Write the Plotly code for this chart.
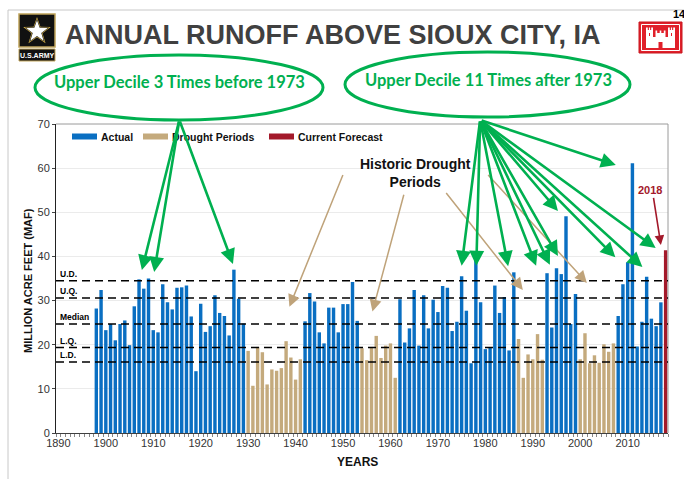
import math
import plotly.graph_objects as go

# ---------------- data ----------------
years = list(range(1898, 2019))
runoff = [
    # 1898-1929
    28.2, 32.4, 23.3, 24.7, 21.0, 24.7, 25.5, 19.9, 28.7, 34.8,
    32.7, 35.0, 23.3, 22.8, 33.7, 29.6, 28.0, 32.9, 33.0, 33.4,
    26.4, 14.0, 29.3, 22.9, 24.2, 31.2, 27.2, 26.5, 22.1, 37.0,
    30.4, 24.8,
    # 1930-1941
    18.6, 10.7, 19.5, 18.3, 11.0, 14.4, 14.1, 14.7, 20.8, 17.1, 12.1, 16.7,
    # 1942-1953
    25.3, 31.7, 29.8, 22.8, 20.3, 28.4, 28.4, 22.8, 29.2, 29.2, 34.2, 25.4,
    # 1954-1961
    19.2, 16.5, 19.5, 22.0, 17.0, 19.8, 20.3, 12.5,
    # 1962-1986
    30.3, 20.5, 23.7, 32.4, 19.8, 31.2, 23.7, 30.2, 27.4, 33.3,
    32.9, 23.1, 25.2, 35.5, 27.7, 15.8, 40.7, 29.6, 19.0, 19.4,
    33.4, 27.2, 30.8, 18.7, 36.4,
    # 1987-1992
    21.3, 12.5, 17.8, 16.7, 22.4, 16.6,
    # 1993-1999
    36.2, 23.9, 37.3, 36.0, 49.1, 24.7, 31.5,
    # 2000-2007
    16.7, 22.6, 15.8, 17.6, 15.9, 20.1, 18.4, 20.3,
    # 2008-2017
    26.5, 33.7, 38.7, 61.1, 19.6, 25.2, 35.4, 25.9, 24.2, 29.6,
    # 2018 forecast
    41.4,
]
drought_periods = [(1930, 1941), (1954, 1961), (1987, 1992), (2000, 2007)]
forecast_year = 2018

stat_labels = ["U.D.", "U.Q.", "Median", "L.Q.", "L.D."]
stat_values = [34.5, 30.6, 24.7, 19.35, 16.1]

x_tick_years = list(range(1890, 2011, 10))

# arrows: tips (year, value) and tails
green_left = [(1907.6, 36.9), (1910.2, 36.5), (1926.8, 38.3)]
green_left_tail = (1915.5, 70.9)
green_right = [(1975.0, 37.9), (1978.1, 37.9), (1984.8, 37.8), (1990.7, 37.9),
               (1993.6, 38.1), (1995.3, 40.1), (1995.3, 50.3), (2007.4, 39.8),
               (2007.5, 60.7), (2013.1, 37.6), (2015.9, 41.9)]
green_right_tail = (1978.9, 70.9)
tan_arrows = [(1938.7, 28.6, 1950.1, 58.8), (1956.2, 27.5, 1962.9, 54.3),
              (1987.9, 32.4, 1971.5, 54.7), (2001.4, 34.0, 1980.3, 58.8)]

# ---------------- split series ----------------
def in_drought(y):
    return any(a <= y <= b for a, b in drought_periods)

act_x, act_y, dr_x, dr_y, fc_x, fc_y = [], [], [], [], [], []
for yr, v in zip(years, runoff):
    if yr == forecast_year:
        fc_x.append(yr); fc_y.append(v)
    elif in_drought(yr):
        dr_x.append(yr); dr_y.append(v)
    else:
        act_x.append(yr); act_y.append(v)

BLUE, TAN, RED, GREEN = "#0A6FC2", "#C4AA7D", "#A3192A", "#00B050"

W, H = 684, 479
ML, MR, MT, MB = 56, 16, 124, 46
PW = W - ML - MR
PH = H - MT - MB


def px(X):
    return (X - ML) / PW


def py(Y):
    return (H - MB - Y) / PH


fig = go.Figure()
fig.add_trace(go.Bar(x=act_x, y=act_y, name="Actual", marker=dict(color=BLUE, line=dict(width=0)), width=0.72))
fig.add_trace(go.Bar(x=dr_x, y=dr_y, name="Drought Periods", marker=dict(color=TAN, line=dict(width=0)), width=0.72))
fig.add_trace(go.Bar(x=fc_x, y=fc_y, name="Current Forecast", marker=dict(color=RED, line=dict(width=0)), width=0.72))

shapes = []
annotations = []


def text(X, Y, s, size, color="#111", xa="center", ya="middle", family=None, **kw):
    f = dict(size=size, color=color)
    if family:
        f["family"] = family
    d = dict(xref="paper", yref="paper", x=px(X), y=py(Y), xanchor=xa, yanchor=ya, text=s,
             showarrow=False, font=f)
    d.update(kw)
    annotations.append(d)


# frame top/right
shapes.append(dict(type="line", xref="paper", yref="paper", x0=0, x1=1, y0=1, y1=1,
                   line=dict(color="#9A9A9A", width=1)))
shapes.append(dict(type="line", xref="paper", yref="paper", x0=1, x1=1, y0=0, y1=1,
                   line=dict(color="#9A9A9A", width=1)))

# page border
shapes.append(dict(type="line", xref="paper", yref="paper", x0=px(8), x1=px(684), y0=py(10), y1=py(10),
                   line=dict(color="#C8C8C8", width=1)))
shapes.append(dict(type="line", xref="paper", yref="paper", x0=px(8), x1=px(8), y0=py(10), y1=py(479),
                   line=dict(color="#C8C8C8", width=1)))

# statistic lines
for lab, v in zip(stat_labels, stat_values):
    shapes.append(dict(type="line", xref="paper", yref="y", x0=0, x1=1, y0=v, y1=v,
                       line=dict(color="black", width=1.5, dash="8px,5px"), layer="above"))
    annotations.append(dict(xref="paper", yref="y", x=px(58), y=v, xanchor="left", yanchor="bottom",
                            text="<b>%s</b>" % lab, showarrow=False, yshift=0,
                            font=dict(size=8.5, color="black")))

# custom legend
leg = [("Actual", BLUE, 72), ("Drought Periods", TAN, 143), ("Current Forecast", RED, 269)]
for name, col, x0 in leg:
    shapes.append(dict(type="rect", xref="paper", yref="paper", x0=px(x0), x1=px(x0 + 25),
                       y0=py(139.5), y1=py(133.5), fillcolor=col, line=dict(width=0)))
    text(x0 + 27, 136.5, "<b>%s</b>" % name, 10.5, xa="left")

# ellipses
shapes.append(dict(type="circle", xref="paper", yref="paper", x0=px(35), x1=px(323), y0=py(120), y1=py(55),
                   line=dict(color=GREEN, width=3)))
shapes.append(dict(type="circle", xref="paper", yref="paper", x0=px(345), x1=px(630), y0=py(117), y1=py(52),
                   line=dict(color=GREEN, width=3)))
text(179, 82, "<b>Upper Decile 3 Times before 1973</b>", 16.5, GREEN, family="Lato")
text(488, 80, "<b>Upper Decile 11 Times after 1973</b>", 16.5, GREEN, family="Lato")

# title
text(63, 35, "<b>ANNUAL RUNOFF ABOVE SIOUX CITY, IA</b>", 27, "#404040", xa="left")
text(671, 14, "<b>14</b>", 11, "black", xa="left")


def poly(points):
    return "M" + " L".join("%.5f,%.5f" % (px(a), py(b)) for a, b in points) + " Z"


def star(cx, cy, ro, ri):
    pts = []
    for k in range(10):
        ang = -math.pi / 2 + k * math.pi / 5
        r = ro if k % 2 == 0 else ri
        pts.append((cx + r * math.cos(ang), cy + r * math.sin(ang)))
    return poly(pts)


def rect(x0, y0, x1, y1, fill, line=None, lw=0):
    shapes.append(dict(type="rect", xref="paper", yref="paper", x0=px(x0), x1=px(x1), y0=py(y1), y1=py(y0),
                       fillcolor=fill, line=dict(width=lw, color=line or fill)))


# army logo
rect(19, 14, 55, 47, "#111111", "#BFA35A", 1.5)
for r_o, r_i, col in [(14.5, 5.8, "#D9B44A"), (12.8, 5.1, "#111111"), (11.3, 4.5, "white")]:
    shapes.append(dict(type="path", xref="paper", yref="paper", path=star(37, 31.5, r_o, r_i),
                       fillcolor=col, line=dict(width=0)))
rect(19, 49, 55, 61, "#111111", "#BFA35A", 1)
text(37, 55.2, "<b>U.S.ARMY</b>", 7, "white")

# engineers castle logo
rect(639, 22, 682, 53, "#E0202A", "#C8161F", 1)
rect(641.5, 24.5, 679.5, 50.5, "rgba(0,0,0,0)", "white", 1)
CW = "white"
rect(646, 37, 675, 48, CW)
rect(646, 30, 653, 48, CW)
rect(668, 30, 675, 48, CW)
rect(655.5, 33, 665.5, 37, CW)
for a, b in [(646, 647.8), (648.9, 650.1), (651.2, 653), (668, 669.8), (670.9, 672.1), (673.2, 675)]:
    rect(a, 27.5, b, 30, CW)
for a, b in [(655.5, 657.2), (659.7, 661.3), (663.8, 665.5)]:
    rect(a, 30.5, b, 33, CW)
rect(658.5, 42, 662.5, 48, "#E0202A")
rect(649, 33, 650, 36, "#E0202A")
rect(671, 33, 672, 36, "#E0202A")

# drought text + arrows
text(415, 173, "<b>Historic Drought<br>Periods</b>", 14, "#111", align="center")
for tx, ty, ax_, ay_ in tan_arrows:
    annotations.append(dict(xref="x", yref="y", x=tx, y=ty, axref="x", ayref="y", ax=ax_, ay=ay_, text="",
                            showarrow=True, arrowhead=2, arrowsize=1.6, arrowwidth=1.5, arrowcolor="#BFA37A"))

# green arrows
for tips, tail in [(green_left, green_left_tail), (green_right, green_right_tail)]:
    for tx, ty in tips:
        annotations.append(dict(xref="x", yref="y", x=tx, y=ty, axref="x", ayref="y",
                                ax=tail[0], ay=tail[1], text="", showarrow=True,
                                arrowhead=2, arrowsize=1.15, arrowwidth=2.6, arrowcolor=GREEN))

# 2018 label
annotations.append(dict(xref="x", yref="y", x=2014.7, y=55.1, xanchor="center", yanchor="middle",
                        text="<b>2018</b>", showarrow=False, font=dict(size=11, color=RED)))
annotations.append(dict(xref="x", yref="y", x=2017.0, y=42.6, axref="x", ayref="y", ax=2015.4, ay=53.6,
                        text="", showarrow=True, arrowhead=2, arrowsize=1.2, arrowwidth=1.6, arrowcolor=RED))

# axis titles
text(28, 281, "<b>MILLION ACRE FEET (MAF)</b>", 11, "#111", textangle=-90)
text(357, 462, "<b>YEARS</b>", 12, "#111")

fig.update_layout(
    width=W, height=H,
    margin=dict(l=ML, r=MR, t=MT, b=MB, pad=0),
    paper_bgcolor="white", plot_bgcolor="white",
    barmode="overlay", showlegend=False,
    font=dict(family="Liberation Sans", color="#333"),
    shapes=shapes, annotations=annotations,
    xaxis=dict(range=[1889.5, 2018.5], tickmode="array", tickvals=x_tick_years, ticks="",
               showline=True, linecolor="#404040", linewidth=1, showgrid=False, zeroline=False,
               tickfont=dict(size=11, color="#333"),
               minor=dict(tickmode="linear", tick0=1889.5, dtick=1, ticks="outside", ticklen=3,
                          tickcolor="#888", showgrid=False)),
    yaxis=dict(range=[0, 70], dtick=10, showline=True, linecolor="#222", linewidth=1,
               gridcolor="#EBEBEB", zeroline=False, ticks="outside", ticklen=3, tickcolor="#444",
               tickfont=dict(size=11, color="#333")),
)

fig.write_html("out.html", config={"displayModeBar": False},
               post_script="document.body.style.margin='0px';document.body.style.overflow='hidden';")
